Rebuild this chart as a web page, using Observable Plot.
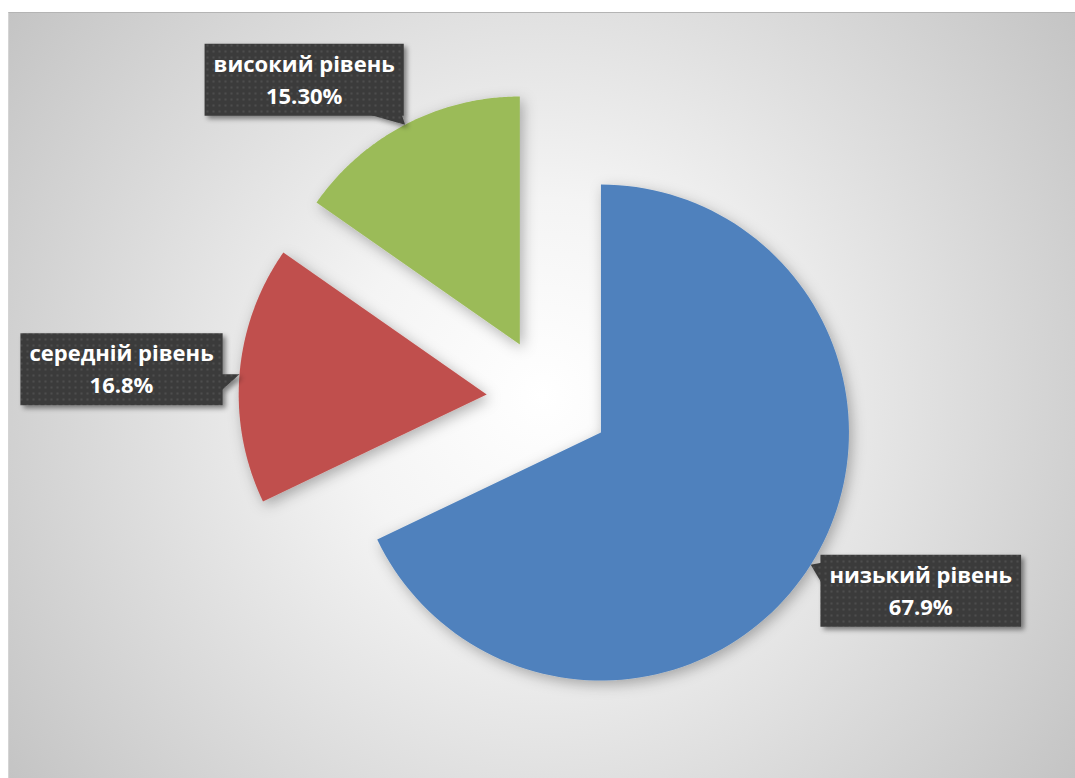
<!DOCTYPE html>
<html><head><meta charset="utf-8">
<script src="https://cdn.jsdelivr.net/npm/d3@7"></script>
<script src="https://cdn.jsdelivr.net/npm/@observablehq/plot@0.6"></script>
<style>
html,body{margin:0;padding:0;background:#fff;}
#wrap{position:relative;width:1075px;height:778px;overflow:hidden;}
#bg{position:absolute;left:8px;top:12px;right:0;bottom:0;
 background:radial-gradient(circle farthest-corner at 50% 50%, #ffffff 0%, #f4f4f4 30%, #c4c4c4 100%);
 border-top:1px solid #b4b4b4;border-left:1px solid #d4d4d4;}
#chart{position:absolute;left:0;top:0;}
</style></head><body>
<div id="wrap"><div id="bg"></div><div id="chart"></div></div>
<script>
// ---- data ----
const categories = ["низький рівень", "середній рівень", "високий рівень"];
const values = [67.9, 16.8, 15.3];
const valueLabels = ["67.9%", "16.8%", "15.30%"];
const colors = ["#4F81BD", "#C0504D", "#9BBB59"];

// ---- layout ----
const W = 1075, H = 778;
const center = [548, 399], radius = 248, explode = 62;
const labelOffsets = [[110, 26], [-118, -5], [-101, -45]]; // box centre relative to callout tip
const boxH = 72, fontSize = 22, fontFamily = "'Open Sans', sans-serif";

const arcs = d3.pie().sort(null).value(d => d).startAngle(0).endAngle(2 * Math.PI)(values);

const ctx = document.createElement("canvas").getContext("2d");
ctx.font = `bold ${fontSize}px ${fontFamily}`;

const sliceRows = [], boxRows = [], labelRows = [];
arcs.forEach((a, i) => {
  const mid = (a.startAngle + a.endAngle) / 2;
  const ox = center[0] + explode * Math.sin(mid), oy = center[1] - explode * Math.cos(mid);
  sliceRows.push({k: categories[i], x: ox, y: oy});
  const n = 120;
  for (let j = 0; j <= n; j++) {
    const t = a.startAngle + (a.endAngle - a.startAngle) * j / n;
    sliceRows.push({k: categories[i], x: ox + radius * Math.sin(t), y: oy - radius * Math.cos(t)});
  }
  // callout
  const tip = [ox + radius * Math.sin(mid), oy - radius * Math.cos(mid)];
  const bx = tip[0] + labelOffsets[i][0], by = tip[1] + labelOffsets[i][1];
  const tw = Math.max(ctx.measureText(categories[i]).width, ctx.measureText(valueLabels[i]).width);
  const bw = tw + 18;
  const x1 = bx - bw / 2, x2 = bx + bw / 2, y1 = by - boxH / 2, y2 = by + boxH / 2;
  const id = "box" + i;
  [[x1, y1], [x2, y1], [x2, y2], [x1, y2]].forEach(p => boxRows.push({k: id, x: p[0], y: p[1]}));
  const clamp = (v, lo, hi) => Math.max(lo, Math.min(hi, v));
  let base;
  if (tip[1] > y2) { const c = clamp(tip[0], x1 + 20, x2 - 18); base = [[c - 16, y2 - 1], [c + 16, y2 - 1]]; }
  else if (tip[0] > x2) { const c = clamp(tip[1] + 8, y1 + 14, y2 - 14); base = [[x2 - 1, c - 8], [x2 - 1, c + 8]]; }
  else if (tip[0] < x1) { const c = clamp(tip[1] + 8, y1 + 14, y2 - 14); base = [[x1 + 1, c - 10], [x1 + 1, c + 10]]; }
  else { const c = clamp(tip[0], x1 + 20, x2 - 20); base = [[c - 12, y1 + 1], [c + 12, y1 + 1]]; }
  [base[0], tip, base[1]].forEach(p => boxRows.push({k: "ptr" + i, x: p[0], y: p[1]}));
  labelRows.push({x: bx, y: by, text: categories[i] + "\n" + valueLabels[i]});
});

const svg = Plot.plot({
  width: W, height: H, margin: 0,
  style: {background: "transparent"},
  x: {domain: [0, W], range: [0, W], axis: null},
  y: {domain: [0, H], range: [0, H], axis: null},
  color: {domain: categories, range: colors},
  marks: [
    Plot.line(sliceRows, {x: "x", y: "y", z: "k", fill: "k", stroke: "none", curve: "linear-closed"}),
    Plot.line(boxRows, {x: "x", y: "y", z: "k", fill: "#3c3c3c", stroke: "none", curve: "linear-closed"}),
    Plot.text(labelRows, {x: "x", y: "y", text: "text", fill: "white", fontSize, fontWeight: "bold",
      fontFamily, lineHeight: 32 / fontSize, textAnchor: "middle", lineAnchor: "middle", dy: -2})
  ]
});

const sel = d3.select(svg);
const defs = sel.insert("defs", ":first-child");
const f1 = defs.append("filter").attr("id", "sliceShadow").attr("x", "-20%").attr("y", "-20%").attr("width", "140%").attr("height", "140%");
f1.append("feDropShadow").attr("dx", 3).attr("dy", 4).attr("stdDeviation", 7).attr("flood-color", "#000").attr("flood-opacity", 0.3);
const f2 = defs.append("filter").attr("id", "boxShadow").attr("x", "-20%").attr("y", "-30%").attr("width", "140%").attr("height", "160%");
f2.append("feDropShadow").attr("dx", 3).attr("dy", 3).attr("stdDeviation", 2.5).attr("flood-color", "#000").attr("flood-opacity", 0.45);
const pat = defs.append("pattern").attr("id", "dots").attr("width", 6).attr("height", 6).attr("patternUnits", "userSpaceOnUse");
pat.append("rect").attr("width", 6).attr("height", 6).attr("fill", "#3a3a3a");
pat.append("circle").attr("cx", 3).attr("cy", 3).attr("r", 1).attr("fill", "#555555");

const gs = svg.querySelectorAll('g[aria-label="line"]');
d3.select(gs[0]).attr("filter", "url(#sliceShadow)");
d3.select(gs[1]).attr("filter", "url(#boxShadow)").selectAll("path").attr("fill", "url(#dots)");

document.getElementById("chart").appendChild(svg);
</script></body></html>
